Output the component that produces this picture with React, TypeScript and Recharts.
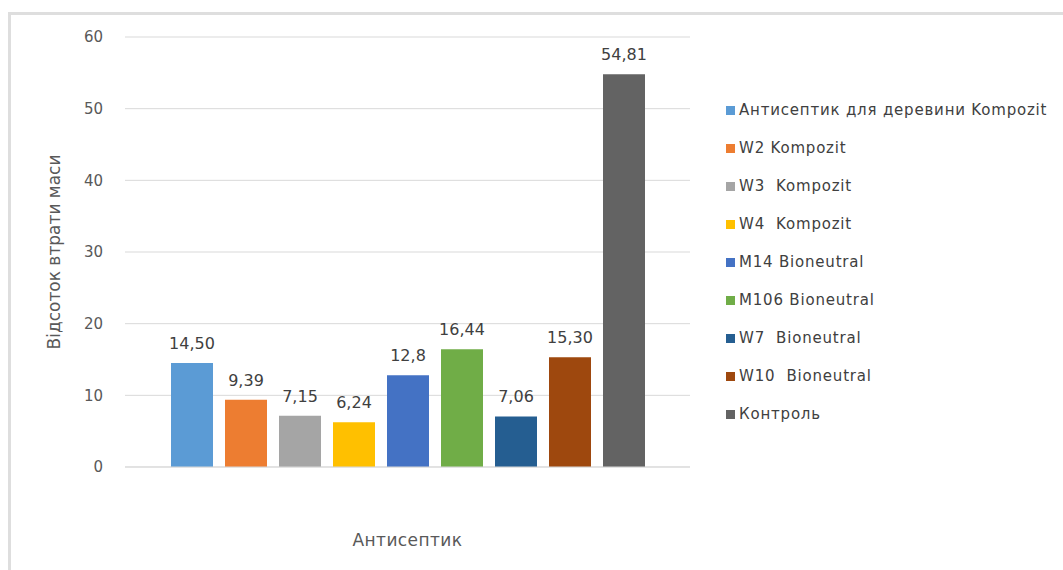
import React from "react";
import { BarChart, Bar, XAxis, YAxis, CartesianGrid, Legend, LabelList } from "recharts";

const categories = ["Антисептик"];
const seriesNames = [
  "Антисептик для деревини Kompozit",
  "W2 Kompozit",
  "W3  Kompozit",
  "W4  Kompozit",
  "M14 Bioneutral",
  "M106 Bioneutral",
  "W7  Bioneutral",
  "W10  Bioneutral",
  "Контроль",
];
const seriesValues = [14.5, 9.39, 7.15, 6.24, 12.8, 16.44, 7.06, 15.3, 54.81];
const valueLabels = ["14,50", "9,39", "7,15", "6,24", "12,8", "16,44", "7,06", "15,30", "54,81"];
const seriesColors = ["#5B9BD5", "#ED7D31", "#A5A5A5", "#FFC000", "#4472C4", "#70AD47", "#255E91", "#9E480E", "#636363"];
const yTicks = [0, 10, 20, 30, 40, 50, 60];
const yAxisTitle = "Відсоток втрати маси";
const xAxisTitle = "Антисептик";

const data = categories.map((name) => {
  const row: Record<string, any> = { name };
  seriesNames.forEach((s, i) => {
    row["s" + i] = seriesValues[i];
  });
  return row;
});

const FONT = "'DejaVu Sans', 'Liberation Sans', Arial, sans-serif";

const LegendContent = () => (
  <div style={{ fontFamily: FONT, fontSize: 15, color: "#404040" }}>
    {seriesNames.map((n, i) => (
      <div key={i} style={{ display: "flex", alignItems: "center", height: 38, whiteSpace: "pre" }}>
        <span style={{ display: "inline-block", width: 9, height: 9, background: seriesColors[i], marginRight: 4 }} />
        <span style={{ letterSpacing: 0.8 }}>{n}</span>
      </div>
    ))}
  </div>
);

export default function App() {
  return (
    <div style={{ position: "absolute", left: 0, top: 0, width: 1063, height: 570, background: "#fff", overflow: "hidden" }}>
      <div
        style={{
          position: "absolute",
          left: 8,
          top: 12,
          width: 1100,
          height: 600,
          borderTop: "3px solid #dedede",
          borderLeft: "3px solid #dedede",
        }}
      />
      <div style={{ position: "absolute", left: 0, top: 0 }}>
        <BarChart
          width={1063}
          height={570}
          data={data}
          margin={{ top: 37, right: 373, bottom: 43, left: 65 }}
          barSize={42}
          barGap={12}
        >
          <CartesianGrid vertical={false} stroke="#d9d9d9" />
          <XAxis
            dataKey="name"
            tick={false}
            tickLine={false}
            axisLine={{ stroke: "#d9d9d9" }}
            height={60}
            label={{
              content: (props: any) => {
                const vb = props.viewBox;
                return (
                  <text x={vb.x + vb.width / 2} y={vb.y + 79} textAnchor="middle" fill="#595959" fontSize={17} letterSpacing={0.4} fontFamily={FONT}>
                    {xAxisTitle}
                  </text>
                );
              },
            }}
          />
          <YAxis
            domain={[0, 60]}
            ticks={yTicks}
            width={60}
            axisLine={false}
            tickLine={false}
            tickMargin={16}
            tick={{ fill: "#595959", fontSize: 15, fontFamily: FONT }}
            label={{
              content: (props: any) => {
                const vb = props.viewBox;
                const cx = vb.x - 11;
                const cy = vb.y + vb.height / 2;
                return (
                  <text x={cx} y={cy} transform={`rotate(-90 ${cx} ${cy})`} textAnchor="middle" dominantBaseline="central" fill="#595959" fontSize={17} fontFamily={FONT}>
                    {yAxisTitle}
                  </text>
                );
              },
            }}
          />
          <Legend
            layout="vertical"
            align="center"
            verticalAlign="middle"
            content={<LegendContent />}
            wrapperStyle={{ left: 726, top: 91, width: 340, height: 350 }}
          />
          {seriesNames.map((n, i) => (
            <Bar key={i} dataKey={"s" + i} name={n} fill={seriesColors[i]} isAnimationActive={false}>
              <LabelList
                dataKey={"s" + i}
                position="top"
                offset={14}
                formatter={() => valueLabels[i]}
                fill="#404040"
                fontSize={16}
                fontFamily={FONT}
              />
            </Bar>
          ))}
        </BarChart>
      </div>
    </div>
  );
}
